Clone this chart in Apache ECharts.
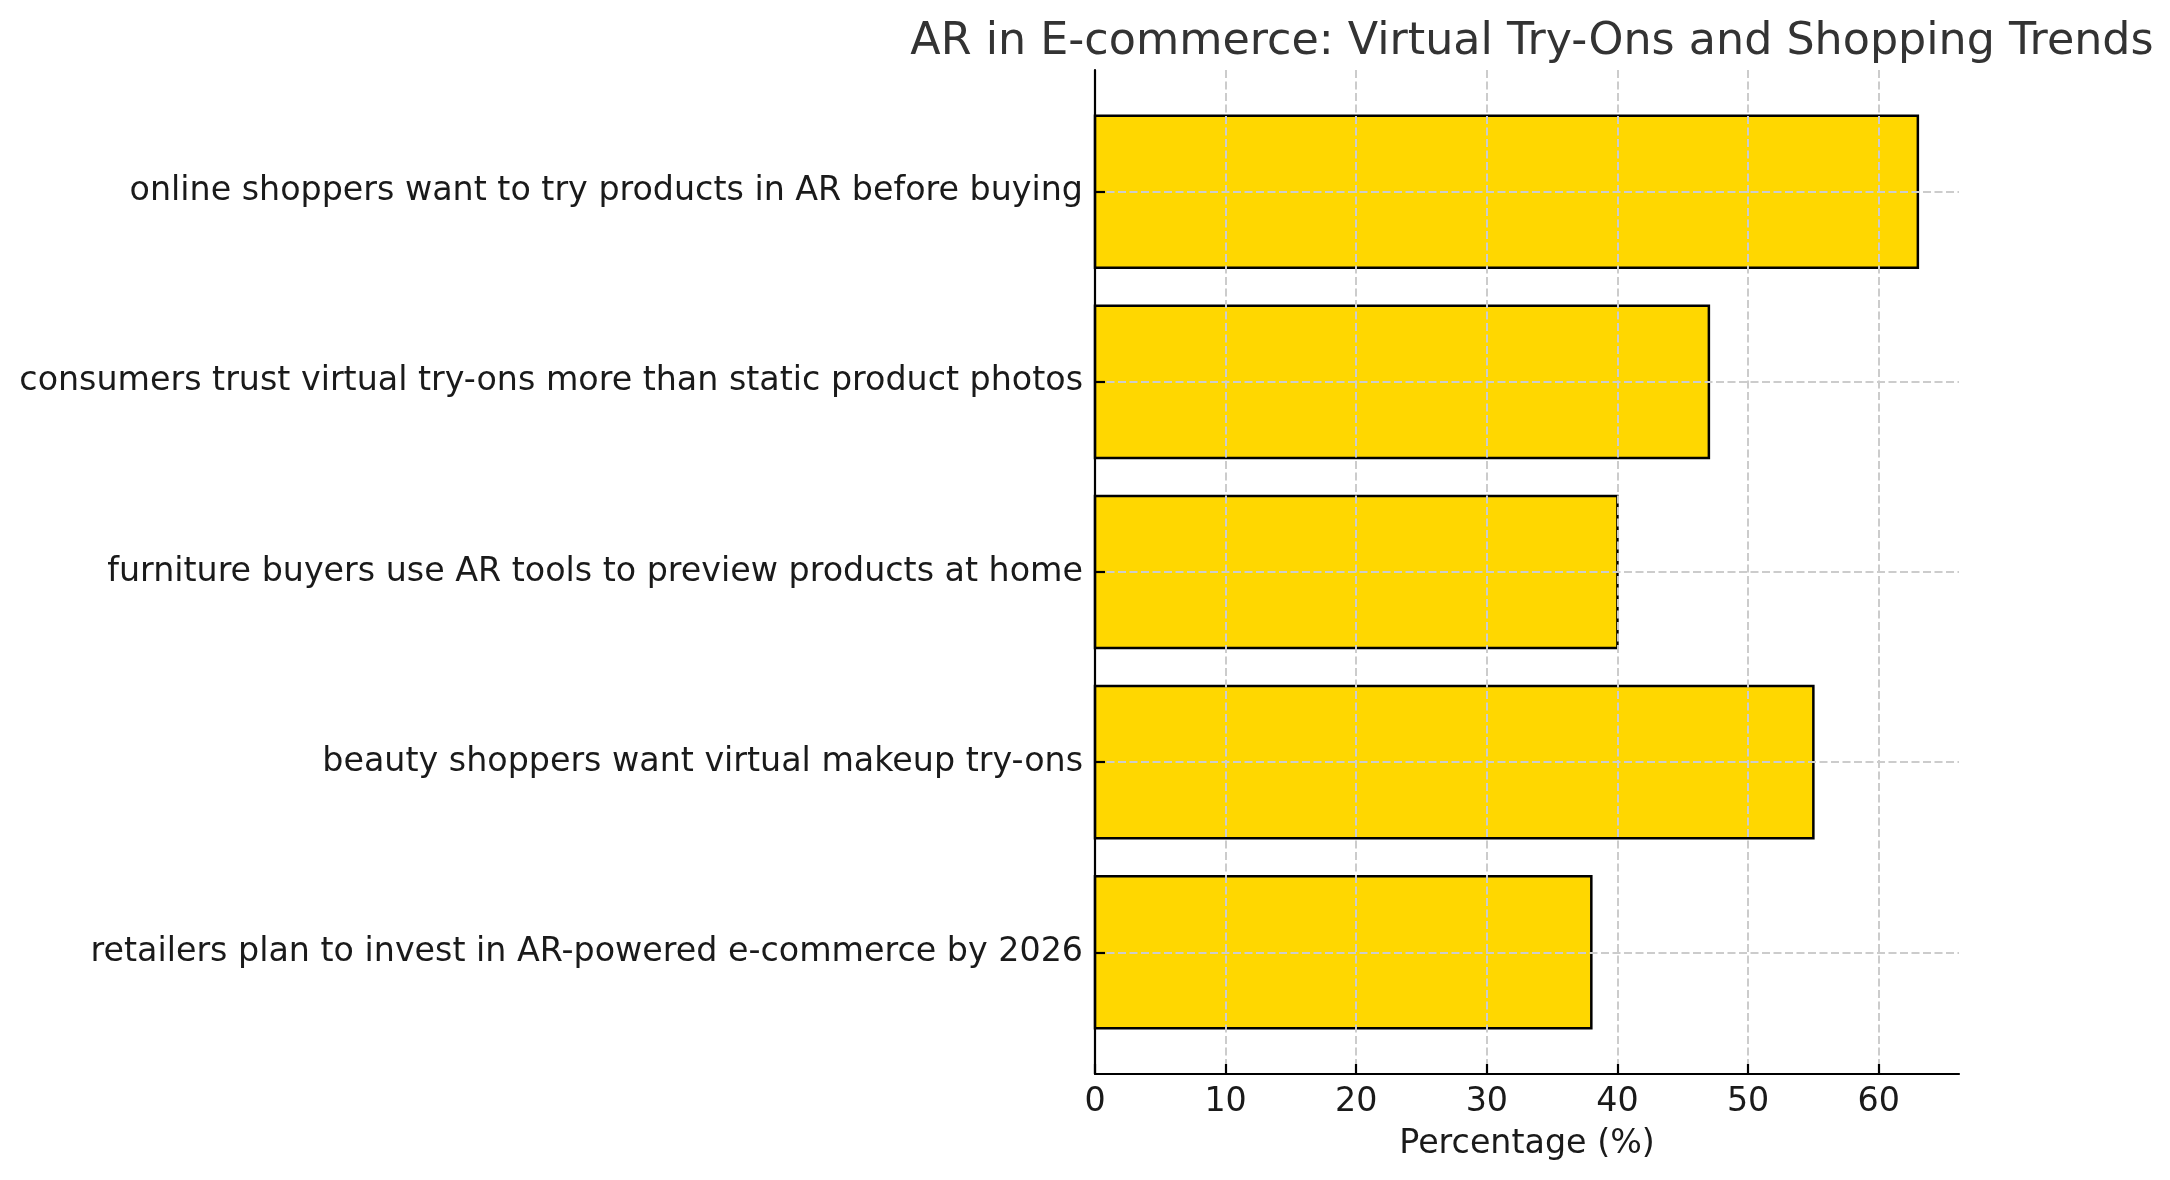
<!DOCTYPE html>
<html>
<head>
<meta charset="utf-8">
<script src="https://cdn.jsdelivr.net/npm/echarts@6/dist/echarts.min.js"></script>
<style>
html,body{margin:0;padding:0;background:#fff;}
#chart{width:2170px;height:1180px;}
</style>
</head>
<body>
<div id="chart"></div>
<script>
// bottom-to-top order (as drawn)
const categories = [
  "retailers plan to invest in AR-powered e-commerce by 2026",
  "beauty shoppers want virtual makeup try-ons",
  "furniture buyers use AR tools to preview products at home",
  "consumers trust virtual try-ons more than static product photos",
  "online shoppers want to try products in AR before buying"
];
const values = [38, 55, 40, 47, 63];
const xTicks = [0, 10, 20, 30, 40, 50, 60];
const catIndex = [0, 1, 2, 3, 4];

const FONT = "DejaVu Sans";
const chart = echarts.init(document.getElementById('chart'), null, {renderer: 'canvas'});
const gridLine = {show: true, lineStyle: {color: '#cccccc', width: 2, type: [8, 3.5]}};

chart.setOption({
  backgroundColor: '#ffffff',
  animation: false,
  title: {
    text: 'AR in E-commerce: Virtual Try-Ons and Shopping Trends',
    left: 1527, top: 15, textAlign: 'center',
    textStyle: {fontFamily: FONT, fontSize: 44.4, fontWeight: 'normal', color: '#333333'}
  },
  grid: {left: 1095, right: 211, top: 70, bottom: 106, containLabel: false},
  xAxis: {
    type: 'value', min: 0, max: 66.15, z: 5,
    name: 'Percentage (%)', nameLocation: 'middle', nameGap: 54,
    nameTextStyle: {fontFamily: FONT, fontSize: 33.3, color: '#1a1a1a'},
    axisLine: {show: true, onZero: false, lineStyle: {color: '#000', width: 2.2}},
    axisTick: {show: true, inside: true, length: 10, customValues: xTicks, lineStyle: {color: '#000', width: 2.2}},
    axisLabel: {customValues: xTicks, margin: 12, fontFamily: FONT, fontSize: 33.3, color: '#1a1a1a'},
    splitLine: gridLine
  },
  yAxis: {
    type: 'value', min: -0.64, max: 4.64, z: 5,
    axisLine: {show: true, onZero: false, lineStyle: {color: '#000', width: 2.2}},
    axisTick: {show: true, inside: true, length: 10, customValues: catIndex, lineStyle: {color: '#000', width: 2.2}},
    axisLabel: {customValues: catIndex, margin: 12, fontFamily: FONT, fontSize: 33.3, color: '#1a1a1a',
      padding: [8, 0, 0, 0],
      formatter: v => categories[Math.round(v)]},
    splitLine: gridLine
  },
  series: [{
    type: 'custom', z: 2,
    data: values.map((v, i) => [v, i]),
    encode: {x: 0, y: 1},
    renderItem: (params, api) => {
      const v = api.value(0), i = api.value(1);
      const p0 = api.coord([0, i + 0.4]);
      const p1 = api.coord([v, i - 0.4]);
      return {type: 'rect',
        shape: {x: p0[0], y: p0[1], width: p1[0] - p0[0], height: p1[1] - p0[1]},
        style: {fill: '#FFD700', stroke: '#000', lineWidth: 2.5}};
    }
  }]
});
</script>
</body>
</html>
